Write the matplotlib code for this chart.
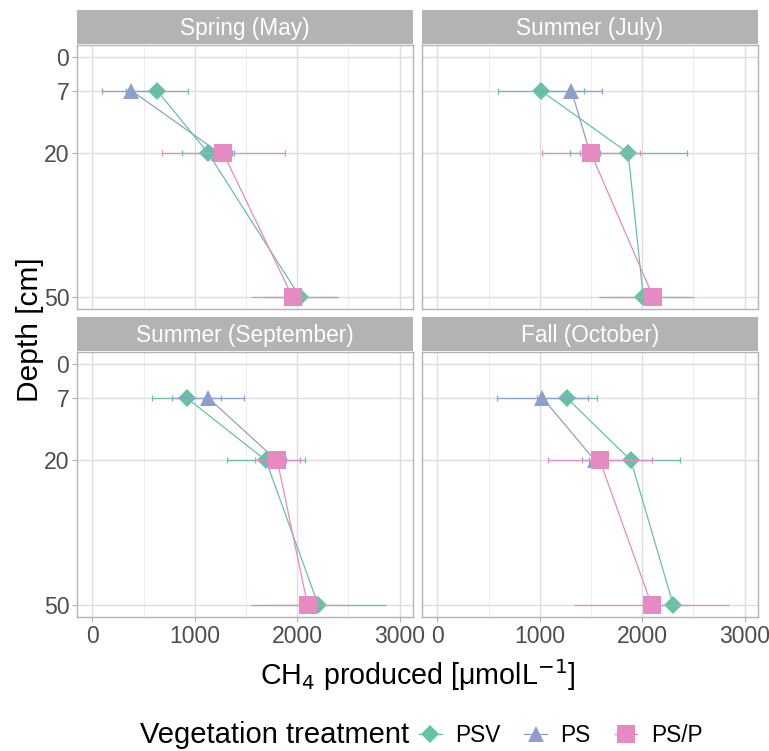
import matplotlib
matplotlib.use("Agg")
import matplotlib.pyplot as plt
from matplotlib.lines import Line2D

plt.rcParams['font.family'] = ['Liberation Sans', 'DejaVu Sans']

seasons = ["Spring (May)", "Summer (July)", "Summer (September)", "Fall (October)"]
depth_ticks = [0, 7, 20, 50]
x_ticks = [0, 1000, 2000, 3000]

# PSV: depths 7, 20, 50
psv_depth = [7, 20, 50]
psv_mean = [[632, 1130, 2026], [1010, 1863, 2010], [919, 1694, 2205], [1261, 1889, 2303]]
psv_err = [[303, 255, 374], [420, 570, 430], [336, 378, 658], [293, 476, 150]]
# PS: depths 7, 20
ps_depth = [7, 20]
ps_mean = [[381, 1240], [1309, 1490], [1130, 1800], [1026, 1537]]
ps_err = [[287, 120], [300, 100], [350, 90], [440, 60]]
# PS/P: depths 20, 50
psp_depth = [20, 50]
psp_mean = [[1277, 1954], [1498, 2107], [1805, 2101], [1586, 2091]]
psp_err = [[600, 407], [480, 400], [220, 404], [510, 760]]

names = ["PSV", "PS", "PS/P"]
colors = ["#66C2A5", "#8DA0CB", "#E78AC3"]
markers = ["D", "^", "s"]
msizes = [9.5, 12, 12.5]

W, H = 769, 751
fig = plt.figure(figsize=(W / 100, H / 100), dpi=100)

panel_px = [(77, 45, 413, 309), (422, 45, 758, 309), (77, 352, 413, 617), (422, 352, 758, 617)]
strip_h = 34

grey70 = "#B3B3B3"
grid_major = "#DEDEDE"
grid_minor = "#EDEDED"

def frac(x0, y0, x1, y1):
    return [x0 / W, 1 - y1 / H, (x1 - x0) / W, (y1 - y0) / H]

series = [
    (psv_depth, psv_mean, psv_err),
    (ps_depth, ps_mean, ps_err),
    (psp_depth, psp_mean, psp_err),
]

for i, (x0, y0, x1, y1) in enumerate(panel_px):
    ax = fig.add_axes(frac(x0, y0, x1, y1))
    ax.set_xlim(-150, 3130)
    ax.set_ylim(52.5, -2.5)
    ax.set_xticks(x_ticks)
    ax.set_xticks([500, 1500, 2500], minor=True)
    ax.set_yticks(depth_ticks)
    ax.grid(True, which='major', color=grid_major, lw=1.0, zorder=0)
    ax.grid(True, which='minor', axis='x', color=grid_minor, lw=0.7, zorder=0)
    ax.set_axisbelow(True)
    for sp in ax.spines.values():
        sp.set_color(grey70)
        sp.set_linewidth(1.0)
    ax.tick_params(which='minor', length=0)
    ax.tick_params(which='major', color=grey70, length=3.5, width=0.8,
                   labelsize=16.6, labelcolor="#4D4D4D", pad=2)
    if i % 2 == 1:
        ax.tick_params(axis='y', length=0, labelleft=False)
    if i < 2:
        ax.tick_params(axis='x', length=0, labelbottom=False)

    for k, (dep, mean, err) in enumerate(series):
        m, e = mean[i], err[i]
        # error bars: capped at shallow depths, no visible caps at 50 cm
        for d, v, ev in zip(dep, m, e):
            cs = 0 if d == 50 else 2.3
            ax.errorbar(v, d, xerr=ev, fmt='none', ecolor=colors[k],
                        elinewidth=0.9, capsize=cs, capthick=0.9, zorder=3 + k)
        ax.plot(m, dep, color=colors[k], lw=0.9, zorder=3 + k)
        ax.plot(m, dep, linestyle='none', marker=markers[k], color=colors[k],
                markersize=msizes[k], markeredgewidth=0, zorder=3 + k)

    sax = fig.add_axes(frac(x0, y0 - strip_h - 1, x1, y0 - 1))
    sax.set_facecolor(grey70)
    sax.set_xticks([])
    sax.set_yticks([])
    for sp in sax.spines.values():
        sp.set_visible(False)
    sax.text(0.5, 0.47, seasons[i], ha='center', va='center', color='white',
             fontsize=16.3, transform=sax.transAxes)

fig.text(30 / W, 1 - 330 / H, "Depth [cm]", rotation=90, ha='center', va='center', fontsize=21.5)
fig.text(418 / W, 1 - 675 / H, r"CH$_4$ produced [$\mathregular{\mu}$molL$^{-1}$]",
         ha='center', va='center', fontsize=20.6)

fig.text(140 / W, 1 - 735 / H, "Vegetation treatment", ha='left', va='center', fontsize=21.0)
handles = [Line2D([0], [0], color=colors[k], marker=markers[k], markersize=msizes[k],
                  markeredgewidth=0, lw=0.9) for k in range(3)]
fig.legend(handles, names, loc='center left', bbox_to_anchor=(419 / W, 1 - 735 / H),
           ncol=3, frameon=False, fontsize=16.3, handlelength=1.0, handletextpad=0.6,
           columnspacing=1.05, borderaxespad=0, borderpad=0)

fig.savefig("out.png", dpi=100)
